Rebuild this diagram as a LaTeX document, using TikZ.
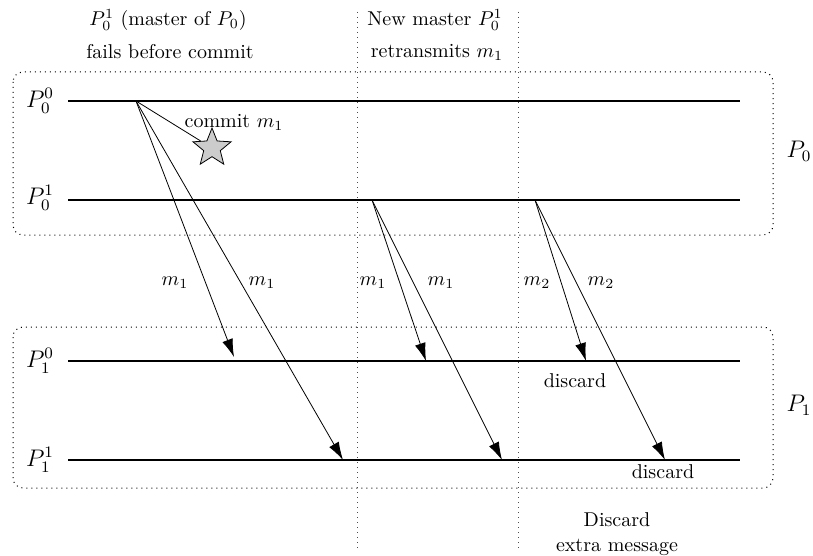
\documentclass[tikz,border=0pt]{standalone}
\usetikzlibrary{arrows.meta,shapes.geometric}
\begin{document}
\begin{tikzpicture}[x=0.5pt,y=-0.5pt,
  timeline/.style={line width=0.8pt},
  msg/.style={line width=0.4pt,-{Latex[length=9pt,width=5.5pt]}},
  grp/.style={dotted,line width=0.5pt,rounded corners=5pt,draw=black},
  sep/.style={dotted,line width=0.5pt,draw=black!70},
  lbl/.style={inner sep=1pt},
  plbl/.style={inner sep=1pt,font=\large}]
\useasboundingbox (0,0) rectangle (813,556);
% group boxes
\draw[grp] (13,72) rectangle (773,235);
\draw[grp] (13,327) rectangle (773,488);
% separators
\coordinate (v1t) at (357,12); \coordinate (v1b) at (357,550);
\coordinate (v2t) at (518,12); \coordinate (v2b) at (518,550);
\draw[sep] (v1t) -- (v1b);
\draw[sep] (v2t) -- (v2b);
% process labels
\node[plbl] (n00) at (40,101) {$P_0^0$};
\node[plbl] (n01) at (40,198) {$P_0^1$};
\node[plbl] (n10) at (40,361) {$P_1^0$};
\node[plbl] (n11) at (40,460) {$P_1^1$};
\node[plbl] (g0) at (799,151) {$P_0$};
\node[plbl] (g1) at (799,405) {$P_1$};
% timelines
\coordinate (a0s) at (68,101); \coordinate (a0e) at (740,101);
\coordinate (a1s) at (68,200); \coordinate (a1e) at (740,200);
\coordinate (b0s) at (68,361); \coordinate (b0e) at (740,361);
\coordinate (b1s) at (68,460); \coordinate (b1e) at (740,460);
\draw[timeline] (a0s) -- (a0e);
\draw[timeline] (a1s) -- (a1e);
\draw[timeline] (b0s) -- (b0e);
\draw[timeline] (b1s) -- (b1e);
% headers
\node[lbl] (h1) at (168,20) {$P_0^1$ (master of $P_0$)};
\node[lbl] (h2) at (170,52) {fails before commit};
\node[lbl] (h3) at (435,20) {New master $P_0^1$};
\node[lbl] (h4) at (437,52) {retransmits $m_1$};
\node[lbl] (h5) at (617,520) {Discard};
\node[lbl] (h6) at (617,547) {extra message};
% star commit
\coordinate (s1) at (136,101);
\node[star,star points=5,star point ratio=2.3,minimum size=20pt,inner sep=0pt,draw,fill=black!20,line width=0.4pt] (st) at (212,148) {};
\draw[line width=0.4pt] (s1) -- (st);
\node[lbl] (cm) at (234,122) {commit $m_1$};
% messages
\coordinate (s2) at (372,200);
\coordinate (s3) at (535,200);
\coordinate (e1) at (234,357);
\coordinate (e2) at (343,460);
\coordinate (e3) at (426,361);
\coordinate (e4) at (502,460);
\coordinate (e5) at (586,361);
\coordinate (e6) at (665,460);
\draw[msg] (s1) -- (e1);
\draw[msg] (s1) -- (e2);
\draw[msg] (s2) -- (e3);
\draw[msg] (s2) -- (e4);
\draw[msg] (s3) -- (e5);
\draw[msg] (s3) -- (e6);
\node[lbl] (m1) at (175,283) {$m_1$};
\node[lbl] (m2) at (262,283) {$m_1$};
\node[lbl] (m3) at (373,283) {$m_1$};
\node[lbl] (m4) at (441,283) {$m_1$};
\node[lbl] (m5) at (537,283) {$m_2$};
\node[lbl] (m6) at (601,283) {$m_2$};
\node[lbl] (d1) at (575,381) {discard};
\node[lbl] (d2) at (663,472) {discard};
\end{tikzpicture}
\end{document}
